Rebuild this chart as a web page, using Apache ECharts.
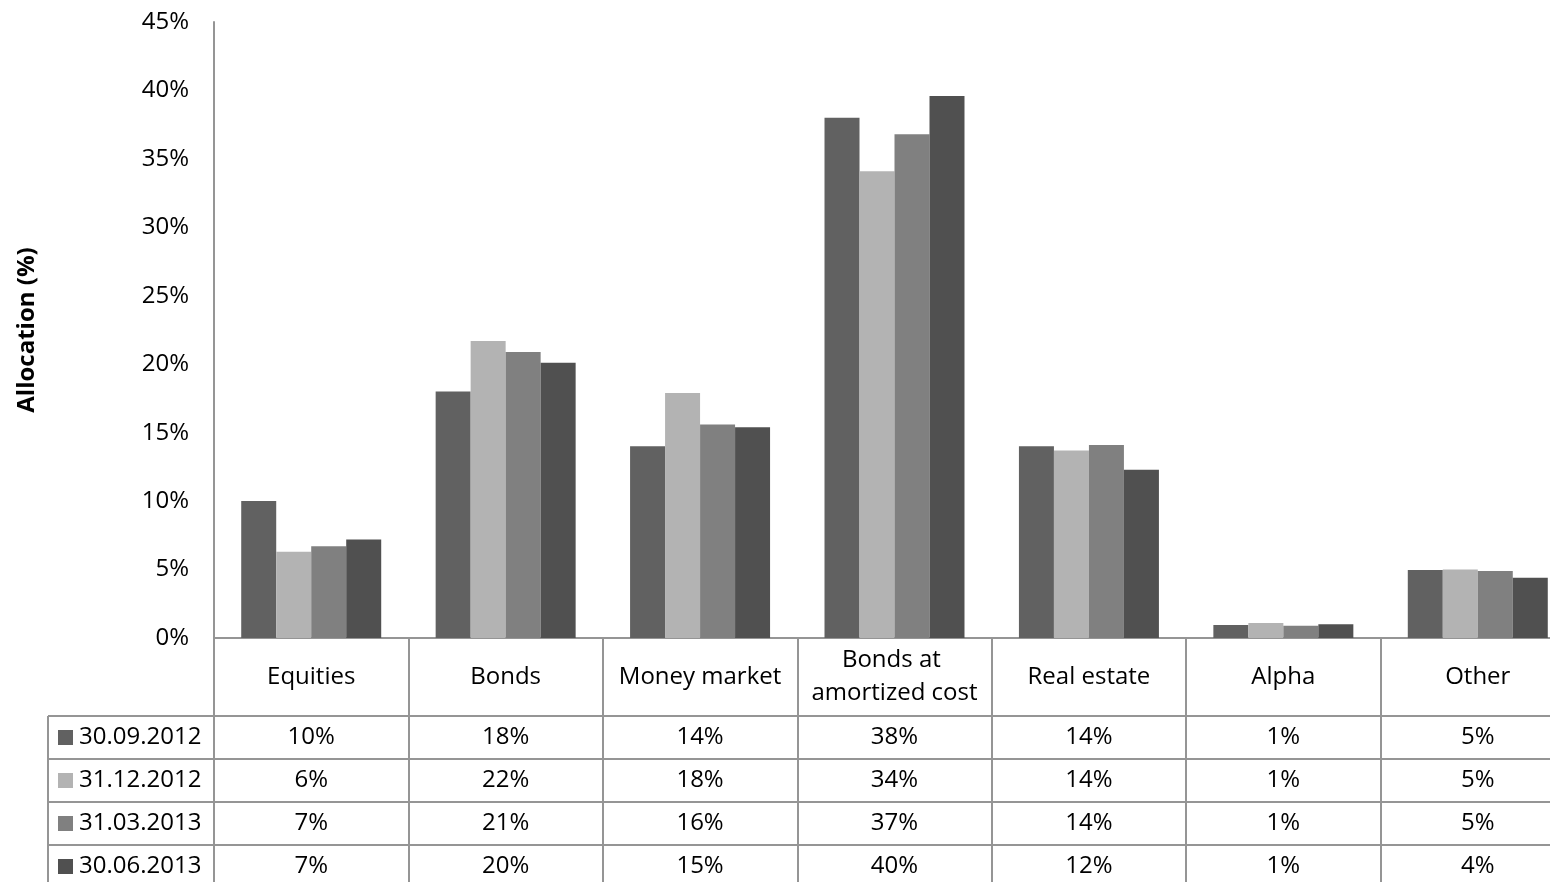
<!DOCTYPE html>
<html>
<head>
<meta charset="utf-8">
<script src="https://cdn.jsdelivr.net/npm/echarts@6/dist/echarts.min.js"></script>
<style>
  html, body { margin: 0; padding: 0; background: #fff; overflow: hidden; }
  #wrap { width: 1550px; height: 882px; overflow: hidden; }
  /* the last column runs past the right edge of the view */
  #chart { width: 1576px; height: 882px; }
</style>
</head>
<body>
<div id="wrap"><div id="chart"></div></div>
<script>
// Asset classes along the category axis
const categories = ['Equities', 'Bonds', 'Money market', 'Bonds at amortized cost', 'Real estate', 'Alpha', 'Other'];
// Reporting dates (one series each)
const seriesNames = ['30.09.2012', '31.12.2012', '31.03.2013', '30.06.2013'];
// Allocation in percent per reporting date
const alloc_30_09_2012 = [10.0, 18.0, 14.0, 38.0, 14.0, 0.95, 4.97];
const alloc_31_12_2012 = [6.3, 21.7, 17.9, 34.1, 13.7, 1.1, 5.0];
const alloc_31_03_2013 = [6.7, 20.9, 15.6, 36.8, 14.1, 0.9, 4.9];
const alloc_30_06_2013 = [7.2, 20.1, 15.4, 39.6, 12.3, 1.0, 4.4];
// Value axis range and step (percent)
const yMin = 0, yMax = 45, yStep = 5;

const seriesValues = [alloc_30_09_2012, alloc_31_12_2012, alloc_31_03_2013, alloc_30_06_2013];
const colors = ['#616161', '#b3b3b3', '#808080', '#505050'];
const FONT = 'Open Sans';
const GRID_COLOR = '#959595';

const GRID_LEFT = 214, GRID_WIDTH = 1361;
const chart = echarts.init(document.getElementById('chart'));

const option = {
  animation: false,
  backgroundColor: '#fff',
  textStyle: { fontFamily: FONT },
  grid: { left: GRID_LEFT, top: 22, width: GRID_WIDTH, height: 616, containLabel: false },
  xAxis: {
    type: 'category',
    data: categories,
    boundaryGap: true,
    axisLine: { show: true, lineStyle: { color: GRID_COLOR, width: 2 } },
    axisTick: { show: true, interval: 0, length: 260, lineStyle: { color: GRID_COLOR, width: 2 } },
    axisLabel: {
      interval: 0, margin: 39, verticalAlign: 'middle',
      fontFamily: FONT, fontSize: 24, color: '#000', lineHeight: 33,
      width: 185, overflow: 'break'
    }
  },
  yAxis: {
    type: 'value',
    min: yMin, max: yMax, interval: yStep,
    name: 'Allocation (%)',
    nameLocation: 'middle',
    nameGap: 175,
    nameRotate: 90,
    nameTextStyle: { fontFamily: FONT, fontSize: 24, fontWeight: 'bold', color: '#000' },
    axisLine: { show: true, lineStyle: { color: GRID_COLOR, width: 2 } },
    axisTick: { show: false },
    splitLine: { show: false },
    axisLabel: { formatter: '{value}%', fontFamily: FONT, fontSize: 24, color: '#000', margin: 25 }
  },
  series: seriesNames.map((name, i) => ({
    name: name,
    type: 'bar',
    data: seriesValues[i],
    barGap: '0%',
    barCategoryGap: '28%',
    itemStyle: { color: colors[i] }
  }))
};
chart.setOption(option);

// Data table under the category axis, placed on the axis's own pixel scale
const HEADER_BOTTOM = 716;
const ROW_H = 43;
const TABLE_LEFT = 48;
const gridRightPx = GRID_LEFT + GRID_WIDTH;
const graphics = [];

// horizontal rules
for (let r = 0; r < seriesNames.length; r++) {
  const y = HEADER_BOTTOM + r * ROW_H;
  graphics.push({
    type: 'line', silent: true,
    shape: { x1: TABLE_LEFT, y1: y, x2: gridRightPx, y2: y },
    style: { stroke: GRID_COLOR, lineWidth: 2 }
  });
}
// left border of legend column
graphics.push({
  type: 'line', silent: true,
  shape: { x1: TABLE_LEFT, y1: HEADER_BOTTOM, x2: TABLE_LEFT, y2: 882 },
  style: { stroke: GRID_COLOR, lineWidth: 2 }
});

seriesNames.forEach((name, r) => {
  const cy = HEADER_BOTTOM + r * ROW_H + ROW_H / 2;
  graphics.push({
    type: 'rect', silent: true,
    shape: { x: 58, y: cy - 7.5, width: 15, height: 15 },
    style: { fill: colors[r] }
  });
  graphics.push({
    type: 'text', silent: true,
    x: 79, y: cy,
    style: { text: name, fontFamily: FONT, fontSize: 24, fill: '#000', align: 'left', verticalAlign: 'middle' }
  });
  seriesValues[r].forEach((v, c) => {
    const cx = chart.convertToPixel({ xAxisIndex: 0 }, categories[c]);
    graphics.push({
      type: 'text', silent: true,
      x: cx, y: cy,
      style: { text: Math.round(v) + '%', fontFamily: FONT, fontSize: 24, fill: '#000', align: 'center', verticalAlign: 'middle' }
    });
  });
});

chart.setOption({ graphic: graphics });
</script>
</body>
</html>
